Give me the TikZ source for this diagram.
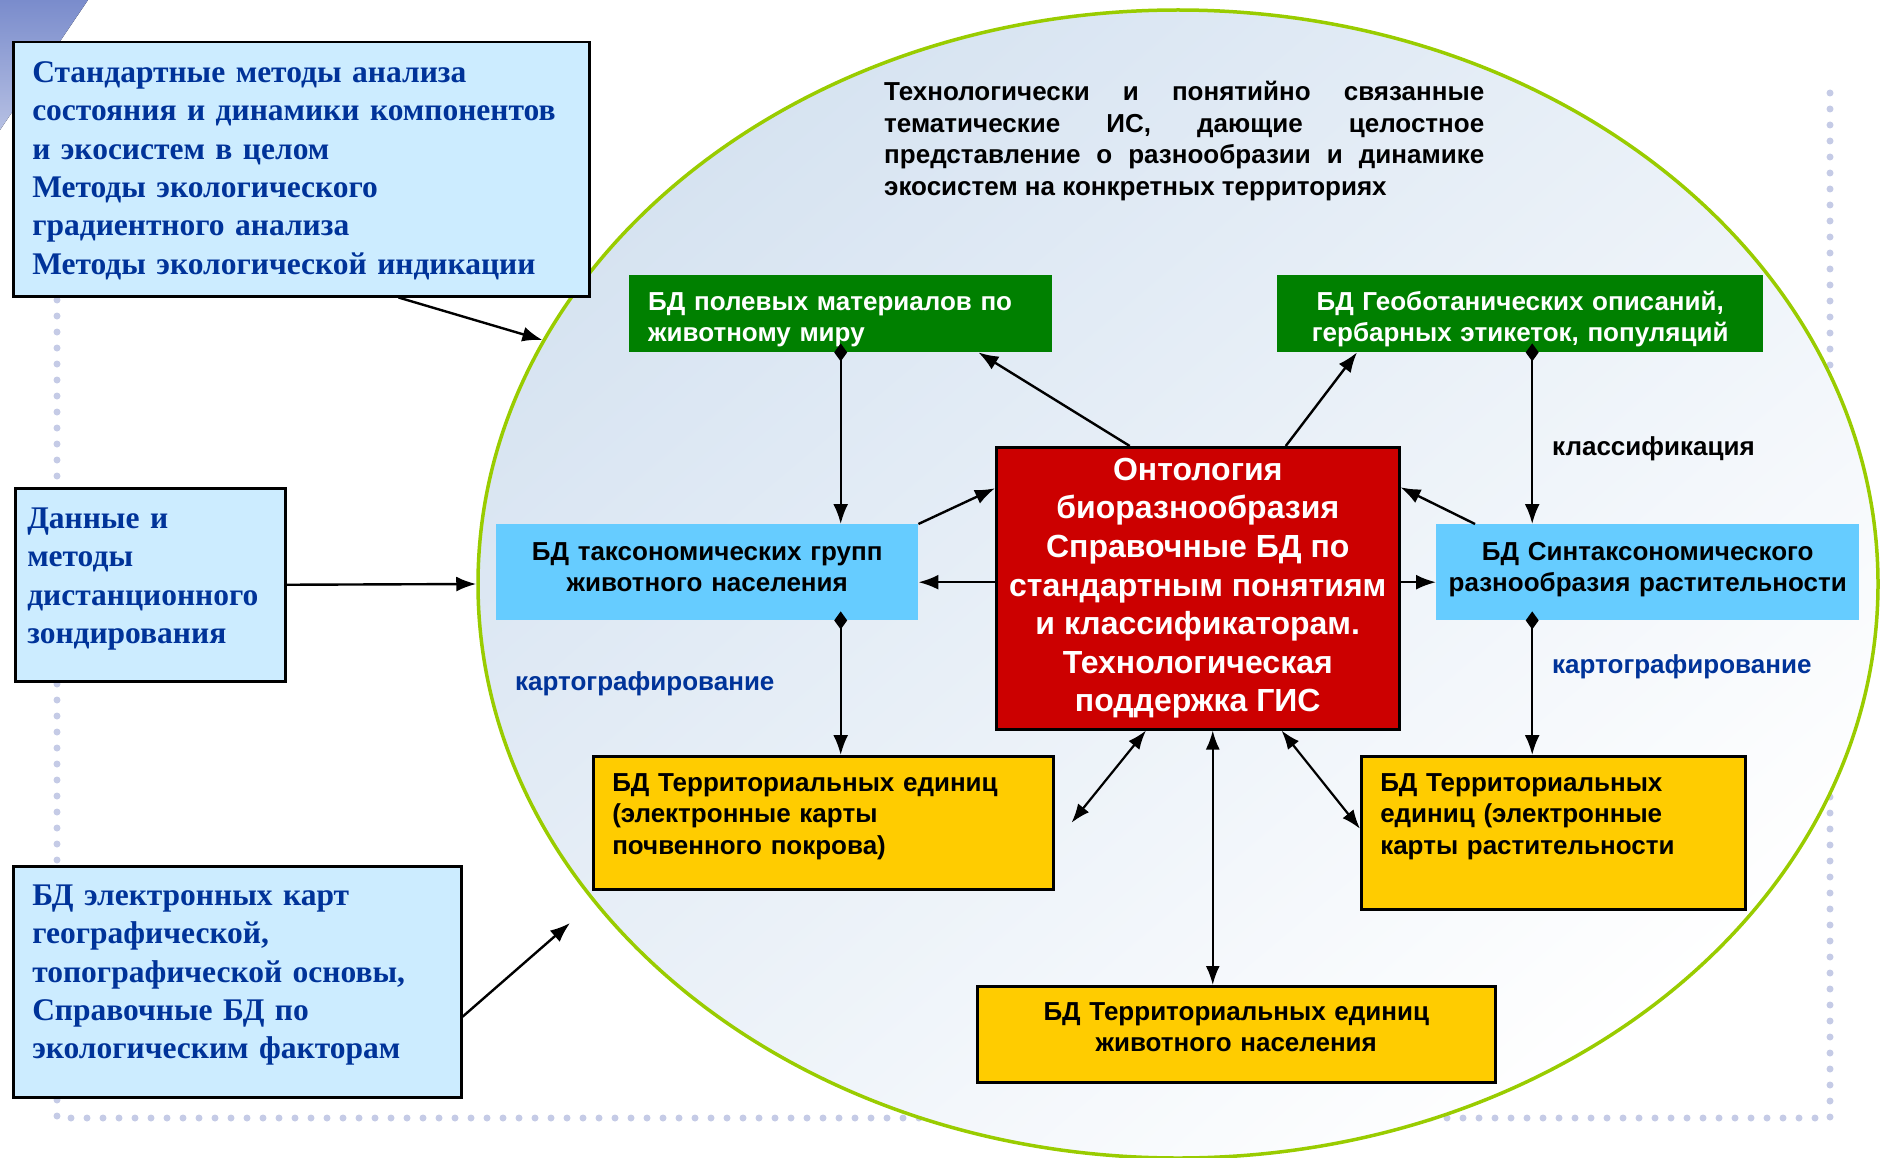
\documentclass[tikz,border=0pt]{standalone}
\usepackage{fontspec}
\setmainfont{Liberation Serif}
\newfontfamily\arialfont{Liberation Sans}
\usetikzlibrary{arrows.meta,positioning,shapes.geometric,calc}

\definecolor{paleblue}{HTML}{CCECFF}
\definecolor{skyblue}{HTML}{66CCFF}
\definecolor{darkgreen}{HTML}{008000}
\definecolor{darkred}{HTML}{CC0000}
\definecolor{gold}{HTML}{FFCC00}
\definecolor{navy}{HTML}{003399}
\definecolor{lime}{HTML}{99CC00}
\definecolor{dotblue}{HTML}{C5CBE6}
\definecolor{ellblue}{HTML}{D6E3F1}
\definecolor{cornerblue}{HTML}{7A8CCC}

\newcommand{\methfont}{\fontsize{31.5}{38.4}\selectfont\bfseries}
\newcommand{\dbfont}{\arialfont\fontsize{26}{31.5}\selectfont\bfseries}
\newcommand{\ontofont}{\arialfont\fontsize{32}{38.6}\selectfont\bfseries}

\tikzstyle{block} = [rectangle, anchor=north west, inner ysep=0pt, inner xsep=19pt]
\tikzstyle{method} = [block, draw=black, line width=2.5pt, fill=paleblue,
 text=navy, align=left, font=\methfont]
\tikzstyle{fieldbd} = [block, fill=darkgreen, text=white, font=\dbfont, minimum height=77pt,
 text height=35pt, text depth=42pt]
\tikzstyle{taxbd} = [block, fill=skyblue, font=\dbfont, align=center, minimum height=96pt,
 text height=36pt, text depth=60pt]
\tikzstyle{terrbd} = [block, draw=black, line width=2.5pt, fill=gold, font=\dbfont]
\tikzstyle{link} = [line width=2.4pt, -{Latex[length=20pt,width=15pt]}]
\tikzstyle{dlink} = [line width=2.4pt, shorten <=-9pt,
 {Diamond[length=18pt,width=13pt]}-{Latex[length=20pt,width=15pt]}]
\tikzstyle{both} = [line width=2.2pt,
 {Latex[length=19pt,width=14pt]}-{Latex[length=19pt,width=14pt]}]
\tikzstyle{dotline} = [dotblue, line width=7pt, line cap=round, dash pattern=on 0pt off 16pt]

\begin{document}
\begin{tikzpicture}[x=1pt, y=-1pt]
\useasboundingbox (0,0) rectangle (1881,1158);

% slide template
\fill[top color=cornerblue, bottom color=cornerblue!55] (0,0) -- (88,0) -- (0,130) -- cycle;
\draw[dotline] (57,60) -- (57,1118) -- (1830,1118) -- (1830,78);

% the ecosystem oval
\node[ellipse, draw=lime, line width=3.5pt, minimum width=1400pt, minimum height=1148pt,
 inner sep=0pt, top color=ellblue, bottom color=white, shading angle=40] (eco) at (1178,584) {};

\node[anchor=north west, text width=600pt, align=justify, inner sep=0pt, font=\dbfont] (topic) at (884,81)
 {Технологически и понятийно связанные\linebreak тематические ИС, дающие целостное\linebreak
 представление о разнообразии и динамике\linebreak экосистем на конкретных территориях};

% outer boxes
\node[method, minimum width=576pt, minimum height=254pt, text width=538pt,
 text height=40pt, text depth=214pt] (methods) at (12,41)
 {Стандартные методы анализа\\ состояния и динамики компонентов\\ и экосистем в целом\\
 Методы экологического\\ градиентного анализа\\ Методы экологической индикации};
\node[method, minimum width=270pt, minimum height=193pt, text width=246pt, inner xsep=12pt,
 text height=40pt, text depth=153pt] (remote) at (14,487)
 {Данные и\\ методы\\ дистанционного\\ зондирования};
\node[method, minimum width=448pt, minimum height=231pt, text width=410pt,
 text height=39pt, text depth=192pt] (maps) at (12,865)
 {БД электронных карт\\ географической,\\ топографической основы,\\ Справочные БД по\\ экологическим факторам};

% inner boxes
\node[fieldbd, text width=385pt, align=left] (fauna) at (629,275)
 {БД полевых материалов по\\ животному миру};
\node[fieldbd, text width=478pt, inner xsep=4pt, align=center] (geobot) at (1277,275)
 {БД Геоботанических описаний,\\ гербарных этикеток, популяций};

\node[block, draw=black, line width=2.5pt, fill=darkred, text=white, font=\ontofont, align=center,
 minimum width=403pt, minimum height=282pt, inner xsep=4pt] (onto) at (995,446)
 {Онтология\\ биоразнообразия\\ Справочные БД по\\ стандартным понятиям\\ и классификаторам.\\
 Технологическая\\ поддержка ГИС};

\node[taxbd, text width=414pt, inner xsep=4pt] (taxo) at (496,524)
 {БД таксономических групп\\ животного населения};
\node[taxbd, text width=415pt, inner xsep=4pt] (syntax) at (1436,524)
 {БД Синтаксономического\\ разнообразия растительности};

\node[terrbd, text width=422pt, align=left, minimum height=133pt,
 text height=35pt, text depth=98pt] (soilmap) at (592,755)
 {БД Территориальных единиц\\ (электронные карты\\ почвенного покрова)};
\node[terrbd, text width=346pt, align=left, minimum height=153pt,
 text height=35pt, text depth=118pt] (vegmap) at (1360,755)
 {БД Территориальных\\ единиц (электронные\\ карты растительности};
\node[terrbd, text width=510pt, inner xsep=4pt, minimum height=96pt, align=center,
 text height=34pt, text depth=62pt] (animal) at (976,985)
 {БД Территориальных единиц\\ животного населения};

% labels
\node[anchor=west, font=\dbfont, inner sep=0pt] (classif) at (1552,449) {классификация};
\node[anchor=west, font=\dbfont, text=navy, inner sep=0pt] (mapleft) at (515,684) {картографирование};
\node[anchor=west, font=\dbfont, text=navy, inner sep=0pt] (mapright) at (1552,667) {картографирование};

% connectors
\coordinate (mapsend) at (570,923);
\draw[link] ([xshift=-192pt]methods.south east) -- (eco.159);
\draw[link] (remote.east) -- (eco.west);
\draw[link] ([yshift=-35pt]maps.east) -- (mapsend);

\draw[dlink] (fauna.south) -- (fauna.south |- taxo.north);
\draw[dlink] (fauna.south |- taxo.south) -- (fauna.south |- soilmap.north);
\draw[dlink] ([xshift=12pt]geobot.south) -- ([xshift=12pt]geobot.south |- syntax.north);
\draw[dlink] ([xshift=12pt]geobot.south |- syntax.south) -- ([xshift=12pt]geobot.south |- vegmap.north);

\draw[link] ([xshift=-68pt]onto.north) -- ([xshift=-74pt]fauna.south east);
\draw[link] ([xshift=88pt]onto.north) -- ([xshift=80pt]geobot.south west);
\draw[link] (taxo.north east) -- ([yshift=100pt]onto.west);
\draw[link] ([yshift=-10pt]taxo.east -| onto.west) -- ([yshift=-10pt]taxo.east);
\draw[link] ([xshift=39pt]syntax.north west) -- ([yshift=101pt]onto.east);
\draw[link] ([yshift=-10pt]syntax.west -| onto.east) -- ([yshift=-10pt]syntax.west);

\draw[both] ([xshift=151pt]onto.south west) -- ([xshift=17pt]soilmap.east);
\draw[both] ([xshift=15pt]onto.south) -- ([xshift=15pt]onto.south |- animal.north);
\draw[both] ([xshift=-119pt]onto.south east) -- ([yshift=4pt]vegmap.west);
\end{tikzpicture}
\end{document}
